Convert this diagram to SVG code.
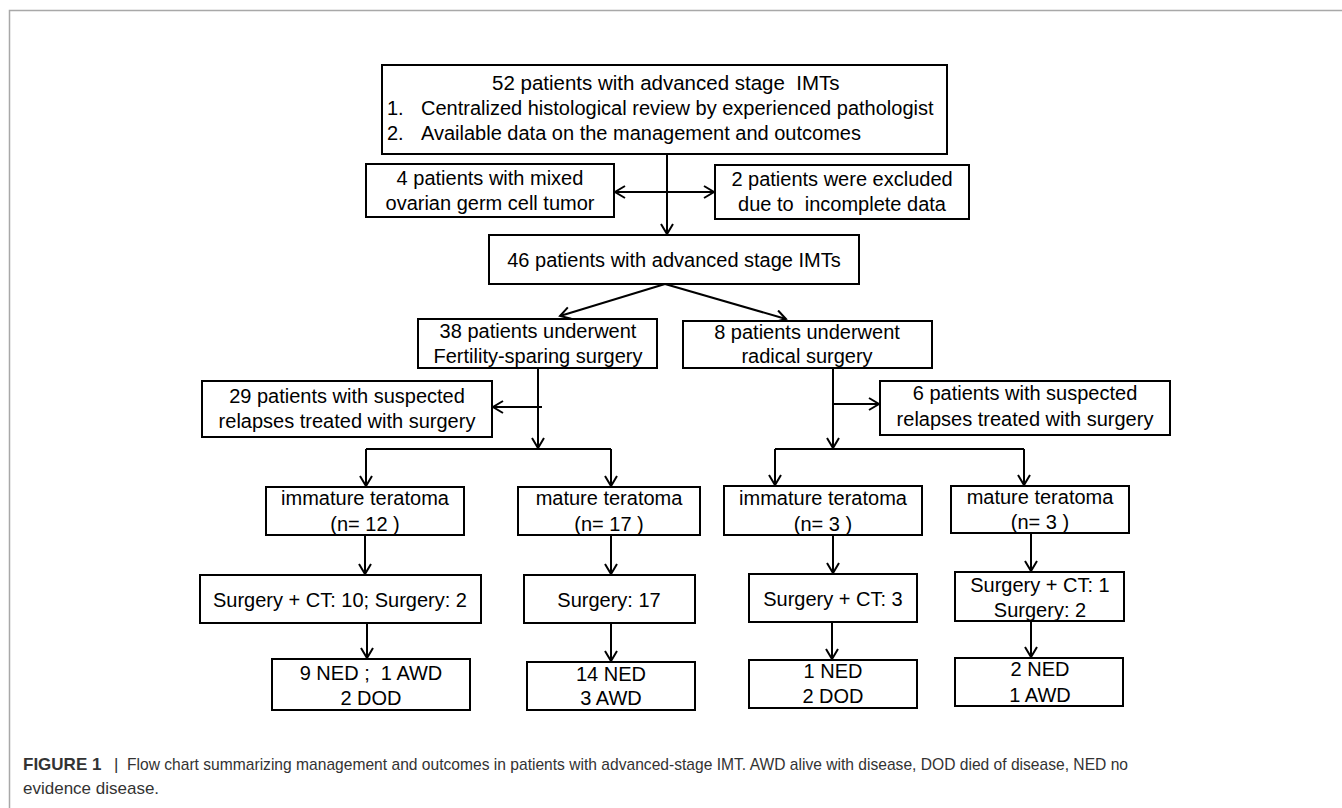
<svg xmlns="http://www.w3.org/2000/svg" width="1342" height="808" viewBox="0 0 1342 808">
<style>
.bx{fill:#fff;stroke:#000;stroke-width:2}
.t{font-family:"Liberation Sans",Arial,sans-serif;font-size:20px;fill:#000;text-anchor:middle;white-space:pre}
.tl{font-family:"Liberation Sans",Arial,sans-serif;font-size:20px;fill:#000;white-space:pre}
.c{fill:none;stroke:#000;stroke-width:2}
.cap{font-family:"Liberation Sans",Arial,sans-serif;font-size:17px;fill:#333;white-space:pre}
</style>
<defs>
<marker id="ah" markerWidth="14" markerHeight="14" refX="12" refY="7" orient="auto" markerUnits="userSpaceOnUse">
<path d="M2,1 L12,7 L2,13" fill="none" stroke="#000" stroke-width="2"/>
</marker>
</defs>
<rect width="1342" height="808" fill="#fff"/>
<path d="M9.5,808 L9.5,10.5 L1342,10.5" fill="none" stroke="#a8a8a8" stroke-width="1.5"/>

<g id="connectors">
<path class="c" d="M667,154 L667,234" marker-end="url(#ah)"/>
<path class="c" d="M667,192 L615,192" marker-end="url(#ah)"/>
<path class="c" d="M667,192 L714,192" marker-end="url(#ah)"/>
<path class="c" d="M665,284 L560,316" marker-end="url(#ah)"/>
<path class="c" d="M665,284 L786,319" marker-end="url(#ah)"/>
<path class="c" d="M538,368 L538,448" marker-end="url(#ah)"/>
<path class="c" d="M542,407 L493,407" marker-end="url(#ah)"/>
<path class="c" d="M366,449 L611,449"/>
<path class="c" d="M366,449 L366,486" marker-end="url(#ah)"/>
<path class="c" d="M611,449 L611,486" marker-end="url(#ah)"/>
<path class="c" d="M365,535 L365,574" marker-end="url(#ah)"/>
<path class="c" d="M367,623 L367,658" marker-end="url(#ah)"/>
<path class="c" d="M611,535 L611,574" marker-end="url(#ah)"/>
<path class="c" d="M611,623 L611,661" marker-end="url(#ah)"/>
<path class="c" d="M833,368 L833,448" marker-end="url(#ah)"/>
<path class="c" d="M833,404 L879,404" marker-end="url(#ah)"/>
<path class="c" d="M775,449 L1024,449"/>
<path class="c" d="M775,449 L775,485" marker-end="url(#ah)"/>
<path class="c" d="M1024,449 L1024,485" marker-end="url(#ah)"/>
<path class="c" d="M833,535 L833,573" marker-end="url(#ah)"/>
<path class="c" d="M832,622 L832,659" marker-end="url(#ah)"/>
<path class="c" d="M1031,533 L1031,571" marker-end="url(#ah)"/>
<path class="c" d="M1031,621 L1031,657" marker-end="url(#ah)"/>
</g>

<g id="n52">
<rect class="bx" x="382" y="65" width="565" height="89"/>
<text class="tl" x="492" y="90" style="font-size:20.5px">52 patients with advanced stage  IMTs</text>
<text class="tl" x="387" y="115">1.</text><text class="tl" x="421" y="115">Centralized histological review by experienced pathologist</text>
<text class="tl" x="387" y="140">2.</text><text class="tl" x="421" y="140">Available data on the management and outcomes</text>
</g>
<g id="n4">
<rect class="bx" x="366" y="164" width="248" height="53"/>
<text class="t" x="490" y="185">4 patients with mixed</text>
<text class="t" x="490" y="210">ovarian germ cell tumor</text>
</g>
<g id="n2">
<rect class="bx" x="715" y="165" width="254" height="54"/>
<text class="t" x="842" y="186">2 patients were excluded</text>
<text class="t" x="842" y="211">due to  incomplete data</text>
</g>
<g id="n46">
<rect class="bx" x="489" y="235" width="370" height="49"/>
<text class="t" x="674" y="267">46 patients with advanced stage IMTs</text>
</g>
<g id="n38">
<rect class="bx" x="418" y="319" width="239" height="49"/>
<text class="t" x="538" y="338">38 patients underwent</text>
<text class="t" x="538" y="363">Fertility-sparing surgery</text>
</g>
<g id="n8">
<rect class="bx" x="683" y="321" width="249" height="47"/>
<text class="t" x="807" y="339">8 patients underwent</text>
<text class="t" x="807" y="363">radical surgery</text>
</g>
<g id="n29">
<rect class="bx" x="202" y="381" width="290" height="56"/>
<text class="t" x="347" y="403">29 patients with suspected</text>
<text class="t" x="347" y="428">relapses treated with surgery</text>
</g>
<g id="n6">
<rect class="bx" x="880" y="381" width="290" height="54"/>
<text class="t" x="1025" y="400">6 patients with suspected</text>
<text class="t" x="1025" y="426">relapses treated with surgery</text>
</g>
<g id="imm12">
<rect class="bx" x="266" y="487" width="198" height="48"/>
<text class="t" x="365" y="505">immature teratoma</text>
<text class="t" x="365" y="531">(n= 12 )</text>
</g>
<g id="sct10">
<rect class="bx" x="200" y="575" width="281" height="48"/>
<text class="t" x="340" y="607">Surgery + CT: 10; Surgery: 2</text>
</g>
<g id="ned9">
<rect class="bx" x="272" y="659" width="198" height="51"/>
<text class="t" x="371" y="680">9 NED ;  1 AWD</text>
<text class="t" x="371" y="705">2 DOD</text>
</g>
<g id="mat17">
<rect class="bx" x="518" y="487" width="182" height="48"/>
<text class="t" x="609" y="505">mature teratoma</text>
<text class="t" x="609" y="531">(n= 17 )</text>
</g>
<g id="s17">
<rect class="bx" x="524" y="575" width="171" height="48"/>
<text class="t" x="609" y="607">Surgery: 17</text>
</g>
<g id="ned14">
<rect class="bx" x="527" y="662" width="168" height="48"/>
<text class="t" x="611" y="681">14 NED</text>
<text class="t" x="611" y="705">3 AWD</text>
</g>
<g id="imm3">
<rect class="bx" x="724" y="486" width="198" height="49"/>
<text class="t" x="823" y="505">immature teratoma</text>
<text class="t" x="823" y="531">(n= 3 )</text>
</g>
<g id="sct3">
<rect class="bx" x="749" y="574" width="168" height="48"/>
<text class="t" x="833" y="606">Surgery + CT: 3</text>
</g>
<g id="ned1">
<rect class="bx" x="749" y="660" width="168" height="48"/>
<text class="t" x="833" y="678">1 NED</text>
<text class="t" x="833" y="703">2 DOD</text>
</g>
<g id="mat3">
<rect class="bx" x="951" y="486" width="178" height="47"/>
<text class="t" x="1040" y="504">mature teratoma</text>
<text class="t" x="1040" y="529">(n= 3 )</text>
</g>
<g id="sct1">
<rect class="bx" x="955" y="572" width="169" height="49"/>
<text class="t" x="1040" y="592">Surgery + CT: 1</text>
<text class="t" x="1040" y="617">Surgery: 2</text>
</g>
<g id="ned2">
<rect class="bx" x="955" y="658" width="168" height="48"/>
<text class="t" x="1040" y="676">2 NED</text>
<text class="t" x="1040" y="702">1 AWD</text>
</g>

<g id="caption">
<text class="cap" x="23" y="770" font-weight="bold" fill="#222">FIGURE 1</text>
<text class="cap" x="114" y="770" fill="#999">|</text>
<text class="cap" x="127" y="770" textLength="1001" lengthAdjust="spacingAndGlyphs">Flow chart summarizing management and outcomes in patients with advanced-stage IMT. AWD alive with disease, DOD died of disease, NED no</text>
<text class="cap" x="23" y="794">evidence disease.</text>
</g>
</svg>
